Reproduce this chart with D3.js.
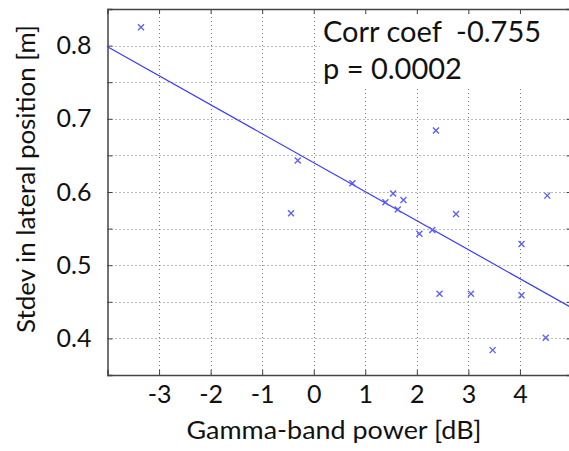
<!DOCTYPE html>
<html>
<head>
<meta charset="utf-8">
<script src="https://cdn.jsdelivr.net/npm/d3@7"></script>
<style>
  body { margin: 0; background: #fff; }
  text { font-family: Lato, "Open Sans", sans-serif; fill: #111; }
</style>
</head>
<body>
<script>
// gamma-band power (dB) vs stdev in lateral position (m)
var gammaPower = [-3.35, -0.31, -0.44, 0.75, 1.39, 1.54, 1.63, 1.74, 2.76, 2.05,
                  2.30, 2.37, 4.53, 4.03, 2.44, 3.05, 4.03, 3.47, 4.50];
var lateralStd = [0.825, 0.643, 0.571, 0.612, 0.586, 0.598, 0.576, 0.589, 0.570, 0.543,
                  0.548, 0.684, 0.595, 0.529, 0.461, 0.461, 0.459, 0.384, 0.401];

var xTicks = [-3, -2, -1, 0, 1, 2, 3, 4];
var yTicks = [0.4, 0.5, 0.6, 0.7, 0.8];
var yGrid = [0.4, 0.45, 0.5, 0.55, 0.6, 0.65, 0.7, 0.75, 0.8];

// fitted line
var fitIntercept = 0.640;
var fitSlope = -0.0396;
var statLines = ["Corr coef  -0.755", "p = 0.0002"];

var width = 569;
var height = 451;
var pl = 107.5, pr = 571.5, pt = 9, pb = 375;

var svg = d3.select("body").append("svg")
	.attr("width", width)
	.attr("height", height);

var x = d3.scaleLinear().domain([-4, 5]).range([pl, pr]);
var y = d3.scaleLinear().domain([0.35, 0.85]).range([pb, pt]);

// grid
var grid = svg.append("g")
	.attr("stroke", "#777")
	.attr("stroke-width", 1)
	.attr("stroke-dasharray", "1,3");

grid.selectAll(".vg")
	.data(xTicks)
	.enter().append("line")
	.attr("x1", function(d) { return Math.round(x(d)) + 0.5; })
	.attr("x2", function(d) { return Math.round(x(d)) + 0.5; })
	.attr("y1", pt)
	.attr("y2", pb);

grid.selectAll(".hg")
	.data(yGrid)
	.enter().append("line")
	.attr("y1", function(d) { return Math.round(y(d)) + 0.5; })
	.attr("y2", function(d) { return Math.round(y(d)) + 0.5; })
	.attr("x1", pl)
	.attr("x2", pr);

// axes (ticks point inward, like matlab)
var ax = d3.axisBottom(x).tickValues(xTicks).tickSize(-5).tickPadding(10)
	.tickFormat(function(d) { return d < 0 ? "-" + Math.abs(d) : d; });
svg.append("g")
	.attr("transform", "translate(0," + pb + ")")
	.call(ax);

var ay = d3.axisLeft(y).tickValues(yGrid).tickSize(-5).tickPadding(16)
	.tickFormat(function(d) { return yTicks.some(function(t) { return Math.abs(t - d) < 1e-9; }) ? d3.format(".1f")(d) : ""; });
svg.append("g")
	.attr("transform", "translate(" + pl + ",0)")
	.call(ay);

var at = d3.axisTop(x).tickValues(xTicks).tickSize(-5).tickFormat("");
svg.append("g").attr("transform", "translate(0," + pt + ")").call(at);

var ar = d3.axisRight(y).tickValues(yGrid).tickSize(-5).tickFormat("");
svg.append("g").attr("transform", "translate(" + pr + ",0)").call(ar);

svg.selectAll(".domain").attr("stroke", "#444").attr("stroke-width", 1.5);
svg.selectAll(".tick line").attr("stroke", "#444");
svg.selectAll(".tick text")
	.style("font-size", "25px")
	.style("font-family", "Lato, sans-serif")
	.attr("fill", "#111");

// white box behind the stats text
svg.append("rect")
	.attr("x", 320)
	.attr("y", 14)
	.attr("width", 260)
	.attr("height", 74)
	.attr("fill", "#fff");

svg.selectAll(".stat")
	.data(statLines)
	.enter().append("text")
	.attr("x", 323)
	.attr("y", function(d, i) { return 42 + i * 37; })
	.style("font-size", "29px")
	.style("white-space", "pre")
	.text(function(d) { return d; });

// regression line
svg.append("line")
	.attr("x1", x(-4))
	.attr("y1", y(fitIntercept + fitSlope * -4))
	.attr("x2", x(5))
	.attr("y2", y(fitIntercept + fitSlope * 5))
	.attr("stroke", "#3a3aff")
	.attr("stroke-width", 1.2);

// x markers
var idx = d3.range(gammaPower.length);
var s = 3;
svg.selectAll(".pt")
	.data(idx)
	.enter().append("path")
	.attr("d", function(i) {
		var cx = x(gammaPower[i]), cy = y(lateralStd[i]);
		return "M" + (cx - s) + "," + (cy - s) + "L" + (cx + s) + "," + (cy + s) +
			"M" + (cx - s) + "," + (cy + s) + "L" + (cx + s) + "," + (cy - s);
	})
	.attr("stroke", "#5b5bff")
	.attr("stroke-width", 1.3)
	.attr("fill", "none");

// axis titles
svg.append("text")
	.attr("x", 334)
	.attr("y", 439)
	.attr("text-anchor", "middle")
	.attr("textLength", 295)
	.attr("lengthAdjust", "spacingAndGlyphs")
	.style("font-size", "25px")
	.text("Gamma-band power [dB]");

svg.append("text")
	.attr("transform", "translate(35,179) rotate(-90)")
	.attr("text-anchor", "middle")
	.attr("textLength", 308)
	.attr("lengthAdjust", "spacingAndGlyphs")
	.style("font-size", "25px")
	.text("Stdev in lateral position [m]");
</script>
</body>
</html>
